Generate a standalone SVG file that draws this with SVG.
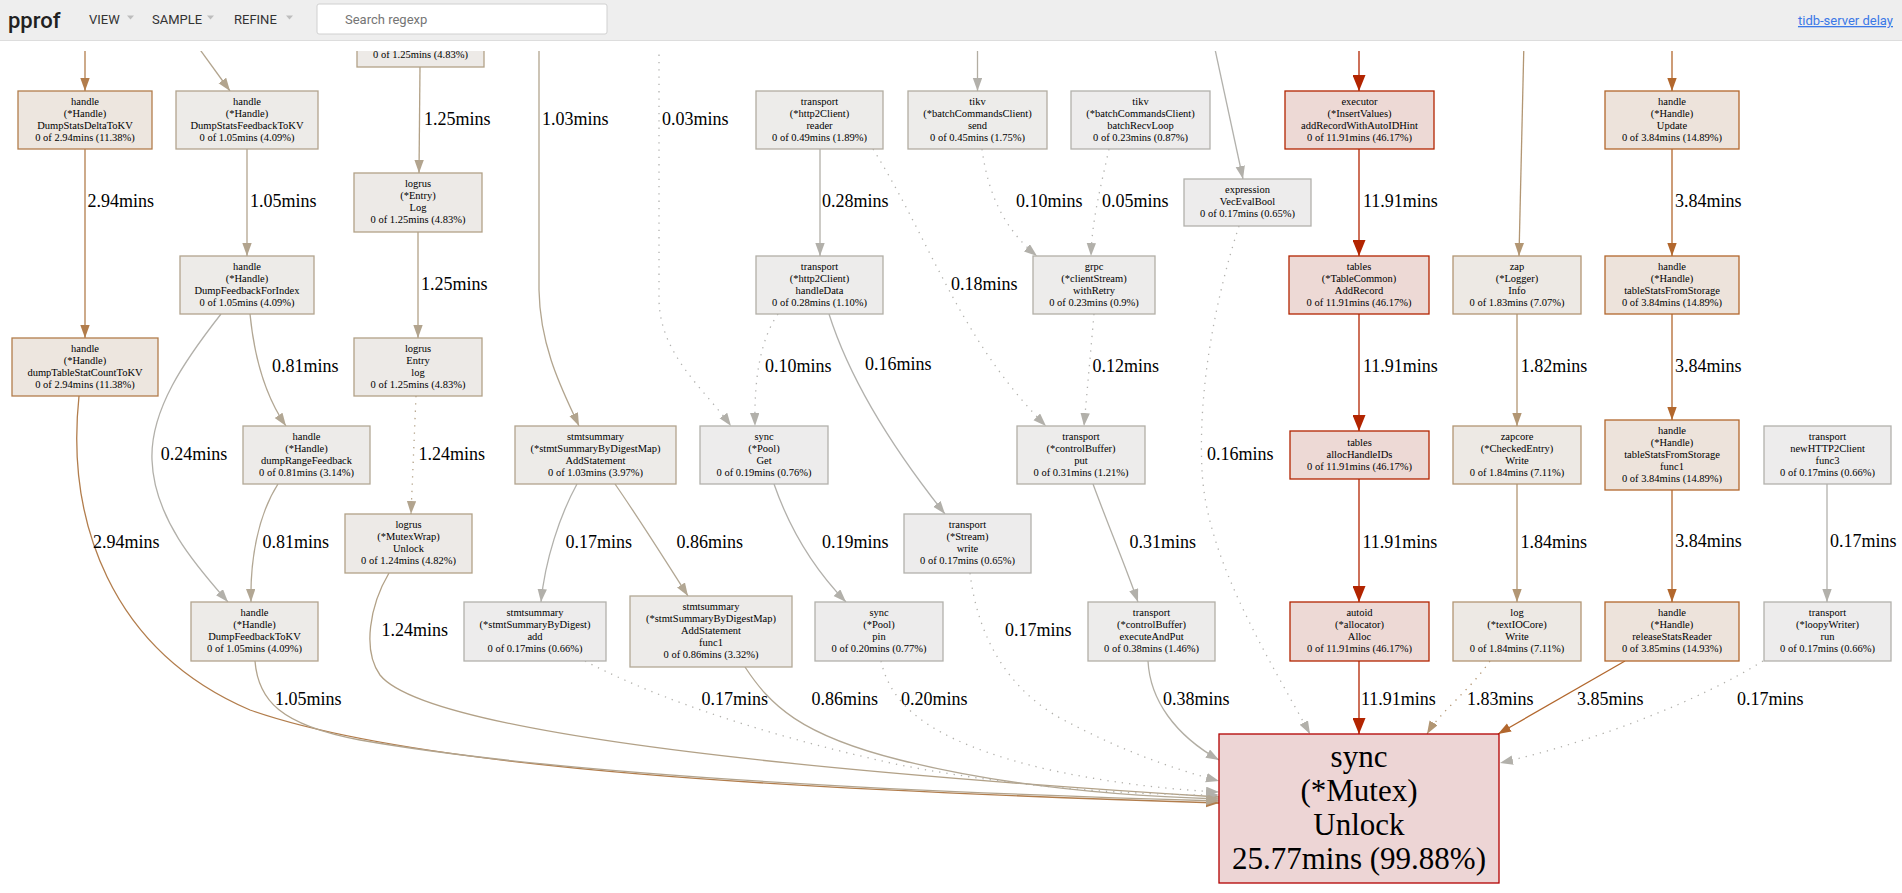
<svg xmlns="http://www.w3.org/2000/svg" width="1902" height="893" viewBox="0 0 1902 893">
<style>
.node rect{stroke-width:1.3}
.node text{font-family:"Liberation Serif","Times New Roman",serif;font-size:10.5px;text-anchor:middle;fill:#000}
.big text{font-size:31px}
.lbl{font-family:"Liberation Serif","Times New Roman",serif;font-size:18px;fill:#000}
.e{fill:none;stroke-width:1.3}
.d{stroke-dasharray:1.3 6}
.cmax rect{fill:#edd5d5;stroke:#b20000}
.c46 rect{fill:#edd9d5;stroke:#b22400}
.c15 rect{fill:#ede3db;stroke:#b2672d}
.c11 rect{fill:#ede6df;stroke:#b27d4c}
.c7 rect{fill:#ede9e4;stroke:#b29673}
.c4 rect{fill:#edeae7;stroke:#b2a187}
.c4b rect{fill:#edebe8;stroke:#b2a48e}
.c3 rect{fill:#edebe9;stroke:#b2a896}
.c2 rect{fill:#edecea;stroke:#b2ada1}
.c1 rect{fill:#edeceb;stroke:#b2afa7}
.c0 rect{fill:#edecec;stroke:#b2b1ac}
.hdr{font-family:Roboto,"Liberation Sans",sans-serif}
</style>
<defs>
<clipPath id="gclip"><rect x="0" y="51" width="1902" height="842"/></clipPath>
<marker id="mred" markerUnits="userSpaceOnUse" markerWidth="17" markerHeight="13" refX="16" refY="6.5" orient="auto"><path d="M0,0 L16,6.5 L0,13 z" fill="#b22400"/></marker>
<marker id="morg" markerUnits="userSpaceOnUse" markerWidth="14" markerHeight="10" refX="13" refY="4.7" orient="auto"><path d="M0,0 L13,4.7 L0,9.4 z" fill="#b2672d"/></marker>
<marker id="mbrn" markerUnits="userSpaceOnUse" markerWidth="14" markerHeight="10" refX="13" refY="4.7" orient="auto"><path d="M0,0 L13,4.7 L0,9.4 z" fill="#b27d4c"/></marker>
<marker id="mt7" markerUnits="userSpaceOnUse" markerWidth="14" markerHeight="10" refX="13" refY="4.7" orient="auto"><path d="M0,0 L13,4.7 L0,9.4 z" fill="#b29673"/></marker>
<marker id="mt4" markerUnits="userSpaceOnUse" markerWidth="14" markerHeight="10" refX="13" refY="4.7" orient="auto"><path d="M0,0 L13,4.7 L0,9.4 z" fill="#b2a48e"/></marker>
<marker id="mt3" markerUnits="userSpaceOnUse" markerWidth="14" markerHeight="10" refX="13" refY="4.7" orient="auto"><path d="M0,0 L13,4.7 L0,9.4 z" fill="#b2a794"/></marker>
<marker id="mg" markerUnits="userSpaceOnUse" markerWidth="14" markerHeight="10" refX="13" refY="4.7" orient="auto"><path d="M0,0 L13,4.7 L0,9.4 z" fill="#b2b0aa"/></marker>
</defs>
<rect x="0" y="0" width="1902" height="893" fill="#fff"/>

<g id="header">
<rect x="0" y="0" width="1902" height="40" fill="#eeeeee"/>
<line x1="0" y1="40.5" x2="1902" y2="40.5" stroke="#dddddd"/>
<text class="hdr" x="8" y="28" font-size="22" font-weight="500" fill="#212121">pprof</text>
<text class="hdr" x="89" y="24" font-size="13" fill="#333">VIEW</text>
<polygon points="127,15.5 134,15.5 130.5,19.5" fill="#bdbdbd"/>
<text class="hdr" x="152" y="24" font-size="13" fill="#333">SAMPLE</text>
<polygon points="207,15.5 214,15.5 210.5,19.5" fill="#bdbdbd"/>
<text class="hdr" x="234" y="24" font-size="13" fill="#333">REFINE</text>
<polygon points="286,15.5 293,15.5 289.5,19.5" fill="#bdbdbd"/>
<rect x="317" y="4" width="290" height="30" rx="2" fill="#fff" stroke="#d0d0d0"/>
<text class="hdr" x="345" y="24" font-size="13" fill="#757575">Search regexp</text>
<text class="hdr" x="1893" y="25" font-size="13" fill="#3b78e7" text-anchor="end" text-decoration="underline">tidb-server delay</text>
</g>

<g clip-path="url(#gclip)">
<g id="edges">
<path class="e" stroke="#b27d4c" marker-end="url(#mbrn)" d="M85,40 L85,91"/>
<path class="e" stroke="#b2a48e" marker-end="url(#mt4)" d="M193,40 L230,91"/>
<path class="e" stroke="#b27d4c" marker-end="url(#mbrn)" d="M85,149 L85,338"/>
<path class="e" stroke="#b2a48e" marker-end="url(#mt4)" d="M247,149 L247,256"/>
<path class="e" stroke="#b2a794" marker-end="url(#mt3)" d="M250,314 C255,365 268,400 286,426"/>
<path class="e" stroke="#b2b0aa" marker-end="url(#mg)" d="M221,314 C185,360 150,410 152,460 C154,520 200,570 228,602"/>
<path class="e" stroke="#b2a794" marker-end="url(#mt3)" d="M278,484 C258,515 250,560 251,602"/>
<path class="e" stroke="#b2a187" marker-end="url(#mt4)" d="M420,67 L419,173"/>
<path class="e" stroke="#b2a187" marker-end="url(#mt4)" d="M418,232 L418,338"/>
<path class="e d" stroke="#b2a187" marker-end="url(#mt4)" d="M416,396 L411,514"/>
<path class="e" stroke="#b2a58f" marker-end="url(#mt4)" d="M539,40 L539,290 C540,350 565,395 579,426"/>
<path class="e d" stroke="#b2b2b0" marker-end="url(#mg)" d="M659,40 L659,300 C660,355 705,390 731,426"/>
<path class="e" stroke="#b2afa8" marker-end="url(#mg)" d="M820,149 L820,256"/>
<path class="e d" stroke="#b2b1ac" marker-end="url(#mg)" d="M873,149 C930,240 960,340 1046,426"/>
<path class="e d" stroke="#b2b1af" marker-end="url(#mg)" d="M778,314 C760,340 754,380 755,426"/>
<path class="e" stroke="#b2b1ad" marker-end="url(#mg)" d="M829,314 C850,380 890,445 945,514"/>
<path class="e" stroke="#b2b1ac" marker-end="url(#mg)" d="M577,484 C560,515 545,560 541,602"/>
<path class="e" stroke="#b2a794" marker-end="url(#mt3)" d="M615,484 C640,520 665,560 688,596"/>
<path class="e" stroke="#b2b0ab" marker-end="url(#mg)" d="M774,484 C790,530 815,570 846,602"/>
<path class="e" stroke="#b2ada2" marker-end="url(#mg)" d="M977.5,40 L977.5,91"/>
<path class="e d" stroke="#b2b1af" marker-end="url(#mg)" d="M982,149 C988,195 1005,230 1037,256"/>
<path class="e d" stroke="#b2b2af" marker-end="url(#mg)" d="M1109,149 C1100,190 1092,220 1091,256"/>
<path class="e" stroke="#b2b1ac" marker-end="url(#mg)" d="M1213,40 L1243,179"/>
<path class="e d" stroke="#b2b1ad" marker-end="url(#mg)" d="M1239,226 C1215,300 1198,390 1202,470 C1206,560 1270,660 1310,734"/>
<path class="e d" stroke="#b2b1ae" marker-end="url(#mg)" d="M1094,314 L1084,426"/>
<path class="e" stroke="#b2afa7" marker-end="url(#mg)" d="M1093,484 C1110,530 1125,565 1138,602"/>
<path class="e" stroke="#b22400" stroke-width="3.9" marker-end="url(#mred)" d="M1359,40 L1359,91"/>
<path class="e" stroke="#b22400" stroke-width="3.9" marker-end="url(#mred)" d="M1359,149 L1359,256"/>
<path class="e" stroke="#b22400" stroke-width="3.9" marker-end="url(#mred)" d="M1359,314 L1359,431"/>
<path class="e" stroke="#b22400" stroke-width="3.9" marker-end="url(#mred)" d="M1359,479 L1359,602"/>
<path class="e" stroke="#b22400" stroke-width="3.9" marker-end="url(#mred)" d="M1359,661 L1359,734"/>
<path class="e" stroke="#b29673" marker-end="url(#mt7)" d="M1524,40 L1519,256"/>
<path class="e" stroke="#b29572" marker-end="url(#mt7)" d="M1517,314 L1517,426"/>
<path class="e" stroke="#b29572" marker-end="url(#mt7)" d="M1517,484 L1517,602"/>
<path class="e d" stroke="#b29572" marker-end="url(#mt7)" d="M1490,661 C1470,690 1440,712 1427,734"/>
<path class="e" stroke="#b2672d" marker-end="url(#morg)" d="M1625,661 L1498,734"/>
<path class="e d" stroke="#b2b1ac" marker-end="url(#mg)" d="M1763,661 C1700,700 1600,740 1500,763"/>
<path class="e" stroke="#b2672d" marker-end="url(#morg)" d="M1672,40 L1672,91"/>
<path class="e" stroke="#b2672d" marker-end="url(#morg)" d="M1672,149 L1672,256"/>
<path class="e" stroke="#b2672d" marker-end="url(#morg)" d="M1672,314 L1672,420"/>
<path class="e" stroke="#b2672d" marker-end="url(#morg)" d="M1672,490 L1672,602"/>
<path class="e" stroke="#b2b1ac" marker-end="url(#mg)" d="M1827,484 L1827,602"/>
<path class="e" stroke="#b27d4c" marker-end="url(#mbrn)" d="M79,396 C66,520 110,650 250,710 C420,770 800,790 1219,803"/>
<path class="e" stroke="#b2a48e" marker-end="url(#mt4)" d="M255,661 C258,700 280,725 360,740 C560,775 900,792 1219,801"/>
<path class="e" stroke="#b2a187" marker-end="url(#mt4)" d="M389,573 C370,605 362,650 380,675 C420,725 700,765 1219,797"/>
<path class="e d" stroke="#b2b1ac" marker-end="url(#mg)" d="M585,661 C640,690 740,730 900,765 C1020,788 1130,795 1219,795"/>
<path class="e" stroke="#b2a794" marker-end="url(#mt3)" d="M745,667 C770,705 800,735 900,760 C1020,790 1150,797 1219,799"/>
<path class="e d" stroke="#b2b0ab" marker-end="url(#mg)" d="M881,661 C890,700 920,740 1050,770 C1120,785 1180,790 1219,792"/>
<path class="e d" stroke="#b2b1ac" marker-end="url(#mg)" d="M970,573 C978,640 1010,690 1060,718 C1120,750 1170,768 1219,781"/>
<path class="e" stroke="#b2aea4" marker-end="url(#mg)" d="M1148,661 C1150,700 1175,735 1219,760"/>
</g>

<g id="labels">
<text class="lbl" x="87.5" y="207">2.94mins</text>
<text class="lbl" x="250" y="207">1.05mins</text>
<text class="lbl" x="424" y="125">1.25mins</text>
<text class="lbl" x="542" y="125">1.03mins</text>
<text class="lbl" x="662" y="125">0.03mins</text>
<text class="lbl" x="822" y="207">0.28mins</text>
<text class="lbl" x="1016" y="207">0.10mins</text>
<text class="lbl" x="1102" y="207">0.05mins</text>
<text class="lbl" x="1363" y="207">11.91mins</text>
<text class="lbl" x="1675" y="207">3.84mins</text>
<text class="lbl" x="421" y="290">1.25mins</text>
<text class="lbl" x="951" y="290">0.18mins</text>
<text class="lbl" x="272" y="372">0.81mins</text>
<text class="lbl" x="765" y="372">0.10mins</text>
<text class="lbl" x="865" y="370">0.16mins</text>
<text class="lbl" x="1092.5" y="372">0.12mins</text>
<text class="lbl" x="1363" y="372">11.91mins</text>
<text class="lbl" x="1520.7" y="372">1.82mins</text>
<text class="lbl" x="1675" y="372">3.84mins</text>
<text class="lbl" x="160.7" y="460">0.24mins</text>
<text class="lbl" x="418.6" y="460">1.24mins</text>
<text class="lbl" x="1207" y="460">0.16mins</text>
<text class="lbl" x="93" y="548">2.94mins</text>
<text class="lbl" x="262.5" y="548">0.81mins</text>
<text class="lbl" x="565.4" y="548">0.17mins</text>
<text class="lbl" x="676.4" y="548">0.86mins</text>
<text class="lbl" x="822" y="548">0.19mins</text>
<text class="lbl" x="1129.6" y="548">0.31mins</text>
<text class="lbl" x="1362.5" y="548">11.91mins</text>
<text class="lbl" x="1520.5" y="548">1.84mins</text>
<text class="lbl" x="1675.3" y="547">3.84mins</text>
<text class="lbl" x="1830" y="547">0.17mins</text>
<text class="lbl" x="381.4" y="636">1.24mins</text>
<text class="lbl" x="1005" y="636">0.17mins</text>
<text class="lbl" x="275" y="705">1.05mins</text>
<text class="lbl" x="701.5" y="705">0.17mins</text>
<text class="lbl" x="811.5" y="705">0.86mins</text>
<text class="lbl" x="901" y="705">0.20mins</text>
<text class="lbl" x="1163" y="705">0.38mins</text>
<text class="lbl" x="1361" y="705">11.91mins</text>
<text class="lbl" x="1467" y="705">1.83mins</text>
<text class="lbl" x="1577" y="705">3.85mins</text>
<text class="lbl" x="1737" y="705">0.17mins</text>
</g>

<g id="n7" class="node c4"><rect x="357" y="9" width="127" height="58"/><text x="420.5" y="58.1">0 of 1.25mins (4.83%)</text></g>
<g id="n1" class="node c11"><rect x="18" y="91" width="134" height="58"/><text x="85" y="104.8">handle</text><text x="85" y="116.8">(*Handle)</text><text x="85" y="128.8">DumpStatsDeltaToKV</text><text x="85" y="140.8">0 of 2.94mins (11.38%)</text></g>
<g id="n2" class="node c4b"><rect x="176" y="91" width="142" height="58"/><text x="247" y="104.8">handle</text><text x="247" y="116.8">(*Handle)</text><text x="247" y="128.8">DumpStatsFeedbackToKV</text><text x="247" y="140.8">0 of 1.05mins (4.09%)</text></g>
<g id="n3" class="node c4b"><rect x="180" y="256" width="134" height="58"/><text x="247" y="269.8">handle</text><text x="247" y="281.8">(*Handle)</text><text x="247" y="293.8">DumpFeedbackForIndex</text><text x="247" y="305.8">0 of 1.05mins (4.09%)</text></g>
<g id="n4" class="node c11"><rect x="12" y="338" width="146" height="58"/><text x="85" y="351.8">handle</text><text x="85" y="363.8">(*Handle)</text><text x="85" y="375.8">dumpTableStatCountToKV</text><text x="85" y="387.8">0 of 2.94mins (11.38%)</text></g>
<g id="n5" class="node c4"><rect x="354" y="173" width="128" height="59"/><text x="418" y="187.3">logrus</text><text x="418" y="199.3">(*Entry)</text><text x="418" y="211.3">Log</text><text x="418" y="223.3">0 of 1.25mins (4.83%)</text></g>
<g id="n6" class="node c4"><rect x="354" y="338" width="128" height="58"/><text x="418" y="351.8">logrus</text><text x="418" y="363.8">Entry</text><text x="418" y="375.8">log</text><text x="418" y="387.8">0 of 1.25mins (4.83%)</text></g>
<g id="n8" class="node c3"><rect x="243" y="426" width="127" height="58"/><text x="306.5" y="439.8">handle</text><text x="306.5" y="451.8">(*Handle)</text><text x="306.5" y="463.8">dumpRangeFeedback</text><text x="306.5" y="475.8">0 of 0.81mins (3.14%)</text></g>
<g id="n9" class="node c4"><rect x="345" y="514" width="127" height="59"/><text x="408.5" y="528.3">logrus</text><text x="408.5" y="540.3">(*MutexWrap)</text><text x="408.5" y="552.3">Unlock</text><text x="408.5" y="564.3">0 of 1.24mins (4.82%)</text></g>
<g id="n10" class="node c4b"><rect x="191" y="602" width="127" height="59"/><text x="254.5" y="616.3">handle</text><text x="254.5" y="628.3">(*Handle)</text><text x="254.5" y="640.3">DumpFeedbackToKV</text><text x="254.5" y="652.3">0 of 1.05mins (4.09%)</text></g>
<g id="n11" class="node c4b"><rect x="515" y="426" width="161" height="58"/><text x="595.5" y="439.8">stmtsummary</text><text x="595.5" y="451.8">(*stmtSummaryByDigestMap)</text><text x="595.5" y="463.8">AddStatement</text><text x="595.5" y="475.8">0 of 1.03mins (3.97%)</text></g>
<g id="n12" class="node c0"><rect x="700" y="426" width="128" height="58"/><text x="764" y="439.8">sync</text><text x="764" y="451.8">(*Pool)</text><text x="764" y="463.8">Get</text><text x="764" y="475.8">0 of 0.19mins (0.76%)</text></g>
<g id="n13" class="node c0"><rect x="904" y="514" width="127" height="59"/><text x="967.5" y="528.3">transport</text><text x="967.5" y="540.3">(*Stream)</text><text x="967.5" y="552.3">write</text><text x="967.5" y="564.3">0 of 0.17mins (0.65%)</text></g>
<g id="n14" class="node c0"><rect x="464" y="602" width="142" height="59"/><text x="535" y="616.3">stmtsummary</text><text x="535" y="628.3">(*stmtSummaryByDigest)</text><text x="535" y="640.3">add</text><text x="535" y="652.3">0 of 0.17mins (0.66%)</text></g>
<g id="n15" class="node c3"><rect x="630" y="596" width="162" height="71"/><text x="711" y="610.3">stmtsummary</text><text x="711" y="622.3">(*stmtSummaryByDigestMap)</text><text x="711" y="634.3">AddStatement</text><text x="711" y="646.3">func1</text><text x="711" y="658.3">0 of 0.86mins (3.32%)</text></g>
<g id="n16" class="node c0"><rect x="815" y="602" width="128" height="59"/><text x="879" y="616.3">sync</text><text x="879" y="628.3">(*Pool)</text><text x="879" y="640.3">pin</text><text x="879" y="652.3">0 of 0.20mins (0.77%)</text></g>
<g id="n17" class="node c2"><rect x="756" y="91" width="127" height="58"/><text x="819.5" y="104.8">transport</text><text x="819.5" y="116.8">(*http2Client)</text><text x="819.5" y="128.8">reader</text><text x="819.5" y="140.8">0 of 0.49mins (1.89%)</text></g>
<g id="n18" class="node c1"><rect x="756" y="256" width="127" height="58"/><text x="819.5" y="269.8">transport</text><text x="819.5" y="281.8">(*http2Client)</text><text x="819.5" y="293.8">handleData</text><text x="819.5" y="305.8">0 of 0.28mins (1.10%)</text></g>
<g id="n19" class="node c2"><rect x="908" y="91" width="139" height="58"/><text x="977.5" y="104.8">tikv</text><text x="977.5" y="116.8">(*batchCommandsClient)</text><text x="977.5" y="128.8">send</text><text x="977.5" y="140.8">0 of 0.45mins (1.75%)</text></g>
<g id="n20" class="node c0"><rect x="1071" y="91" width="139" height="58"/><text x="1140.5" y="104.8">tikv</text><text x="1140.5" y="116.8">(*batchCommandsClient)</text><text x="1140.5" y="128.8">batchRecvLoop</text><text x="1140.5" y="140.8">0 of 0.23mins (0.87%)</text></g>
<g id="n21" class="node c0"><rect x="1184" y="179" width="127" height="47"/><text x="1247.5" y="193.3">expression</text><text x="1247.5" y="205.3">VecEvalBool</text><text x="1247.5" y="217.3">0 of 0.17mins (0.65%)</text></g>
<g id="n22" class="node c1"><rect x="1033" y="256" width="122" height="58"/><text x="1094" y="269.8">grpc</text><text x="1094" y="281.8">(*clientStream)</text><text x="1094" y="293.8">withRetry</text><text x="1094" y="305.8">0 of 0.23mins (0.9%)</text></g>
<g id="n23" class="node c1"><rect x="1017" y="426" width="128" height="58"/><text x="1081" y="439.8">transport</text><text x="1081" y="451.8">(*controlBuffer)</text><text x="1081" y="463.8">put</text><text x="1081" y="475.8">0 of 0.31mins (1.21%)</text></g>
<g id="n24" class="node c1"><rect x="1088" y="602" width="127" height="59"/><text x="1151.5" y="616.3">transport</text><text x="1151.5" y="628.3">(*controlBuffer)</text><text x="1151.5" y="640.3">executeAndPut</text><text x="1151.5" y="652.3">0 of 0.38mins (1.46%)</text></g>
<g id="n25" class="node c46"><rect x="1285" y="91" width="149" height="58"/><text x="1359.5" y="104.8">executor</text><text x="1359.5" y="116.8">(*InsertValues)</text><text x="1359.5" y="128.8">addRecordWithAutoIDHint</text><text x="1359.5" y="140.8">0 of 11.91mins (46.17%)</text></g>
<g id="n26" class="node c46"><rect x="1289" y="256" width="140" height="58"/><text x="1359" y="269.8">tables</text><text x="1359" y="281.8">(*TableCommon)</text><text x="1359" y="293.8">AddRecord</text><text x="1359" y="305.8">0 of 11.91mins (46.17%)</text></g>
<g id="n27" class="node c46"><rect x="1290" y="431" width="139" height="48"/><text x="1359.5" y="445.8">tables</text><text x="1359.5" y="457.8">allocHandleIDs</text><text x="1359.5" y="469.8">0 of 11.91mins (46.17%)</text></g>
<g id="n28" class="node c46"><rect x="1290" y="602" width="139" height="59"/><text x="1359.5" y="616.3">autoid</text><text x="1359.5" y="628.3">(*allocator)</text><text x="1359.5" y="640.3">Alloc</text><text x="1359.5" y="652.3">0 of 11.91mins (46.17%)</text></g>
<g id="n29" class="node c7"><rect x="1453" y="256" width="128" height="58"/><text x="1517" y="269.8">zap</text><text x="1517" y="281.8">(*Logger)</text><text x="1517" y="293.8">Info</text><text x="1517" y="305.8">0 of 1.83mins (7.07%)</text></g>
<g id="n30" class="node c7"><rect x="1453" y="426" width="128" height="58"/><text x="1517" y="439.8">zapcore</text><text x="1517" y="451.8">(*CheckedEntry)</text><text x="1517" y="463.8">Write</text><text x="1517" y="475.8">0 of 1.84mins (7.11%)</text></g>
<g id="n31" class="node c7"><rect x="1453" y="602" width="128" height="59"/><text x="1517" y="616.3">log</text><text x="1517" y="628.3">(*textIOCore)</text><text x="1517" y="640.3">Write</text><text x="1517" y="652.3">0 of 1.84mins (7.11%)</text></g>
<g id="n32" class="node c15"><rect x="1605" y="91" width="134" height="58"/><text x="1672" y="104.8">handle</text><text x="1672" y="116.8">(*Handle)</text><text x="1672" y="128.8">Update</text><text x="1672" y="140.8">0 of 3.84mins (14.89%)</text></g>
<g id="n33" class="node c15"><rect x="1605" y="256" width="134" height="58"/><text x="1672" y="269.8">handle</text><text x="1672" y="281.8">(*Handle)</text><text x="1672" y="293.8">tableStatsFromStorage</text><text x="1672" y="305.8">0 of 3.84mins (14.89%)</text></g>
<g id="n34" class="node c15"><rect x="1605" y="420" width="134" height="70"/><text x="1672" y="433.5">handle</text><text x="1672" y="445.5">(*Handle)</text><text x="1672" y="457.5">tableStatsFromStorage</text><text x="1672" y="469.5">func1</text><text x="1672" y="481.5">0 of 3.84mins (14.89%)</text></g>
<g id="n35" class="node c15"><rect x="1605" y="602" width="134" height="59"/><text x="1672" y="616.3">handle</text><text x="1672" y="628.3">(*Handle)</text><text x="1672" y="640.3">releaseStatsReader</text><text x="1672" y="652.3">0 of 3.85mins (14.93%)</text></g>
<g id="n36" class="node c0"><rect x="1764" y="426" width="127" height="58"/><text x="1827.5" y="439.8">transport</text><text x="1827.5" y="451.8">newHTTP2Client</text><text x="1827.5" y="463.8">func3</text><text x="1827.5" y="475.8">0 of 0.17mins (0.66%)</text></g>
<g id="n37" class="node c0"><rect x="1764" y="602" width="127" height="59"/><text x="1827.5" y="616.3">transport</text><text x="1827.5" y="628.3">(*loopyWriter)</text><text x="1827.5" y="640.3">run</text><text x="1827.5" y="652.3">0 of 0.17mins (0.66%)</text></g>
<g id="n38" class="node big cmax"><rect x="1219" y="734" width="280" height="149"/><text x="1359" y="767">sync</text><text x="1359" y="801">(*Mutex)</text><text x="1359" y="835">Unlock</text><text x="1359" y="869">25.77mins (99.88%)</text></g>
</g>
</svg>
